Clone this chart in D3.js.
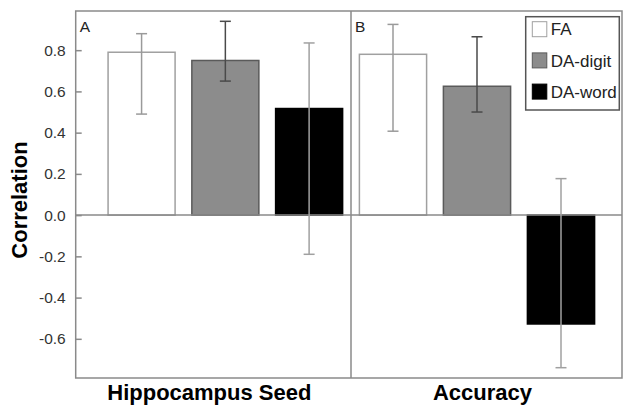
<!DOCTYPE html>
<html lang="en">
<head>
    <meta charset="UTF-8">
    <title>Correlation by seed and accuracy</title>
    <style>
        body { margin: 0; background: #fff; font-family: "Liberation Sans", Arial, sans-serif; }
        #chart { width: 623px; height: 406px; }
    </style>
    <script src="https://d3js.org/d3.v7.min.js"></script>
</head>
<body>
    <div id="chart"></div>

    <script>
        // Values
        const panels = ['Hippocampus Seed', 'Accuracy'];
        const panelLetters = ['A', 'B'];
        const seriesNames = ['FA', 'DA-digit', 'DA-word'];
        const yTicks = [-0.6, -0.4, -0.2, 0.0, 0.2, 0.4, 0.6, 0.8];

        const seedValues = [0.79, 0.75, 0.517];
        const seedUpper = [0.88, 0.94, 0.835];
        const seedLower = [0.49, 0.65, -0.19];

        const accValues = [0.78, 0.625, -0.528];
        const accUpper = [0.925, 0.865, 0.177];
        const accLower = [0.407, 0.50, -0.74];

        const fills = ['#ffffff', '#8c8c8c', '#000000'];
        const strokes = ['#a0a0a0', '#5a5a5a', '#000000'];
        const whiskerColors = ['#9a9a9a', '#4a4a4a', '#a0a0a0'];

        const panelData = [
            { values: seedValues, upper: seedUpper, lower: seedLower },
            { values: accValues, upper: accUpper, lower: accLower }
        ];

        const width = 623, height = 406;
        const frame = { left: 75.7, divider: 351, right: 622, top: 11, bottom: 378 };

        const svg = d3.select('#chart').append('svg')
            .attr('width', width)
            .attr('height', height);

        const y = d3.scaleLinear()
            .domain([-0.79, 0.99])
            .range([frame.bottom, frame.top]);

        // one band scale per panel
        const xScales = [
            d3.scaleBand().domain(seriesNames).range([frame.left + 24, frame.divider]).paddingInner(0.2).paddingOuter(0.1),
            d3.scaleBand().domain(seriesNames).range([frame.divider, frame.right - 19]).paddingInner(0.2).paddingOuter(0.1)
        ];
        const panelBounds = [[frame.left, frame.divider], [frame.divider, frame.right]];

        // bars
        panelData.forEach((p, pi) => {
            const x = xScales[pi];
            const g = svg.append('g');
            g.selectAll('rect')
                .data(seriesNames)
                .enter().append('rect')
                  .attr('x', d => x(d))
                  .attr('y', (d, i) => y(Math.max(0, p.values[i])))
                  .attr('width', x.bandwidth())
                  .attr('height', (d, i) => Math.abs(y(p.values[i]) - y(0)))
                  .attr('fill', (d, i) => fills[i])
                  .attr('stroke', (d, i) => strokes[i])
                  .attr('stroke-width', 1.5);
        });

        // zero line
        svg.append('line')
            .attr('x1', frame.left).attr('x2', frame.right)
            .attr('y1', y(0)).attr('y2', y(0))
            .attr('stroke', '#8a8a8a').attr('stroke-width', 1.5);

        // error bars
        panelData.forEach((p, pi) => {
            const x = xScales[pi];
            const g = svg.append('g');
            seriesNames.forEach((d, i) => {
                const cx = x(d) + x.bandwidth() / 2;
                g.append('line')
                    .attr('x1', cx).attr('x2', cx)
                    .attr('y1', y(p.upper[i])).attr('y2', y(p.lower[i]))
                    .attr('stroke', whiskerColors[i]).attr('stroke-width', 1.5);
                [p.upper[i], p.lower[i]].forEach(v => {
                    g.append('line')
                        .attr('x1', cx - 5.5).attr('x2', cx + 5.5)
                        .attr('y1', y(v)).attr('y2', y(v))
                        .attr('stroke', whiskerColors[i]).attr('stroke-width', 1.5);
                });
            });
        });

        // frame and divider
        svg.append('rect')
            .attr('x', frame.left).attr('y', frame.top)
            .attr('width', frame.right - frame.left).attr('height', frame.bottom - frame.top)
            .attr('fill', 'none').attr('stroke', '#8a8a8a').attr('stroke-width', 1.5);
        svg.append('line')
            .attr('x1', frame.divider).attr('x2', frame.divider)
            .attr('y1', frame.top).attr('y2', frame.bottom)
            .attr('stroke', '#8a8a8a').attr('stroke-width', 1.5);

        // y axis, ticks pointing inward
        const yAxis = svg.append('g')
            .attr('transform', `translate(${frame.left}, 0)`)
            .call(d3.axisLeft(y)
                .tickValues(yTicks)
                .tickFormat(d => d.toFixed(1))
                .tickSizeInner(-6)
                .tickSizeOuter(0)
                .tickPadding(10));
        yAxis.select('.domain').remove();
        yAxis.selectAll('.tick line').attr('stroke', '#8a8a8a').attr('stroke-width', 1.5);
        yAxis.selectAll('.tick text')
            .attr('fill', '#333')
            .style('font-size', '15.5px')
            .style('font-family', '"Liberation Sans", Arial, sans-serif');

        // y axis label
        svg.append('text')
            .attr('transform', 'translate(27, 200) rotate(-90)')
            .style('text-anchor', 'middle')
            .style('font-size', '22px')
            .style('font-weight', 'bold')
            .text('Correlation');

        // panel names under the frame, letters in the corners
        panels.forEach((name, pi) => {
            const [a, b] = panelBounds[pi];
            svg.append('text')
                .attr('x', (a + b) / 2 - 4)
                .attr('y', 400)
                .style('text-anchor', 'middle')
                .style('font-size', '22px')
                .style('font-weight', 'bold')
                .text(name);
            svg.append('text')
                .attr('x', a + 4)
                .attr('y', 32)
                .style('font-size', '15.5px')
                .attr('fill', '#222')
                .text(panelLetters[pi]);
        });

        // legend
        const legend = svg.append('g').attr('transform', 'translate(525.7, 16.7)');
        legend.append('rect')
            .attr('width', 93.6).attr('height', 93.3)
            .attr('fill', '#fff').attr('stroke', '#555').attr('stroke-width', 1.5);
        seriesNames.forEach((name, i) => {
            const row = legend.append('g').attr('transform', `translate(0, ${12.5 + i * 31.2})`);
            row.append('rect')
                .attr('x', 6.6).attr('y', -7.5)
                .attr('width', 14.5).attr('height', 15)
                .attr('fill', fills[i]).attr('stroke', strokes[i]).attr('stroke-width', 1);
            row.append('text')
                .attr('x', 25)
                .attr('dy', '0.36em')
                .style('font-size', '17px')
                .attr('fill', '#222')
                .text(name);
        });
    </script>
</body>
</html>
